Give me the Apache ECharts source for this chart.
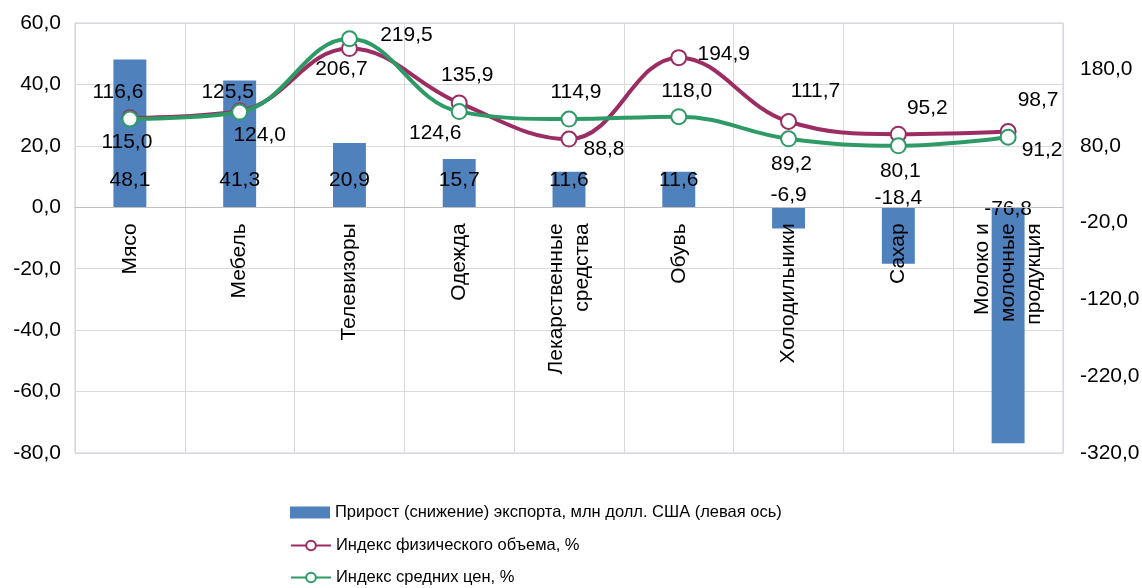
<!DOCTYPE html>
<html>
<head>
<meta charset="utf-8">
<script src="https://cdn.jsdelivr.net/npm/echarts@6/dist/echarts.min.js"></script>
<style>
  html, body { margin: 0; padding: 0; background: #fff; }
  #chart { width: 1142px; height: 588px; }
</style>
</head>
<body>
<div id="chart"></div>
<script>
const categories = ['Мясо', 'Мебель', 'Телевизоры', 'Одежда', 'Лекарственные\nсредства', 'Обувь', 'Холодильники', 'Сахар', 'Молоко и\nмолочные\nпродукция']
const exportGrowth = [48.1, 41.3, 20.9, 15.7, 11.6, 11.6, -6.9, -18.4, -76.8]
const volumeIndex = [116.6, 125.5, 206.7, 135.9, 88.8, 194.9, 111.7, 95.2, 98.7]
const priceIndex = [115.0, 124.0, 219.5, 124.6, 114.9, 118.0, 89.2, 80.1, 91.2]
const leftTicks = [-80, -60, -40, -20, 0, 20, 40, 60]
const rightTicks = [-320, -220, -120, -20, 80, 180]
const rightAxisMax = 240

const seriesNames = [
  'Прирост (снижение) экспорта, млн долл. США (левая ось)',
  'Индекс физического объема, %',
  'Индекс средних цен, %'
]

// where each label sits, relative to its mark
const volumeLabelOffset = [[-12, -26], [-12, -19], [-8, 21], [8, -28], [35, 10], [45, -3], [27, -30], [29, -26], [30, -31]]
const priceLabelOffset = [[-3, 23], [20, 23], [57, -4], [-24, 22], [7, -27], [8, -25], [3, 25], [2, 25], [34, 13]]
const barLabelOffset = [[0, 0], [0, 0], [0, 0], [0, 0], [0, 0], [0, 0], [0, 0], [0, 3], [0, 14]]

const FONT = 'Liberation Sans, Arial, sans-serif'
const fmt = v => Number(v).toFixed(1).replace('.', ',')

function lineData(values, offsets) {
  return values.map((v, i) => ({
    value: v,
    label: { offset: offsets[i] }
  }))
}

const gridTop = 23
const gridBottom = 135
const dom = document.getElementById('chart')
const chart = echarts.init(dom)

// category axis sits on the zero line of the left axis
const plotHeight = dom.clientHeight - gridTop - gridBottom
const leftMin = leftTicks[0]
const leftMax = leftTicks[leftTicks.length - 1]
const zeroOffset = -plotHeight * (0 - leftMin) / (leftMax - leftMin)

const legendTops = [504, 537, 569]
const legends = seriesNames.map((name, i) => ({
  orient: 'vertical',
  left: 290,
  top: legendTops[i],
  padding: 0,
  itemWidth: 40,
  itemHeight: 12,
  textStyle: { fontSize: 16.5, color: '#000', fontFamily: FONT },
  data: [i === 0 ? { name: name, icon: 'rect' } : name]
}))

let option = {
  animation: false,
  textStyle: { fontFamily: FONT },
  grid: {
    left: 75,
    right: 79,
    top: gridTop,
    bottom: gridBottom,
    outerBoundsMode: 'none',
    containLabel: false,
    show: true,
    borderColor: '#c9cde8',
    borderWidth: 1
  },
  legend: legends,
  xAxis: {
    type: 'category',
    data: categories,
    offset: zeroOffset,
    z: 10,
    axisLine: { onZero: false, lineStyle: { color: '#bfbfbf' } },
    axisTick: { show: false },
    axisLabel: {
      rotate: 90,
      margin: 16,
      interval: 0,
      color: '#000',
      fontSize: 21,
      lineHeight: 26,
      fontFamily: FONT
    },
    splitLine: { show: true, interval: 0, lineStyle: { color: '#d9d9d9' } }
  },
  yAxis: [{
    type: 'value',
    min: leftMin,
    max: leftMax,
    interval: leftTicks[1] - leftTicks[0],
    axisLine: { show: true, lineStyle: { color: '#c9cde8' } },
    axisTick: { show: false },
    axisLabel: { color: '#000', fontSize: 21, margin: 14, formatter: fmt, fontFamily: FONT },
    splitLine: { show: true, lineStyle: { color: '#d9d9d9' } }
  }, {
    type: 'value',
    min: rightTicks[0],
    max: rightAxisMax,
    interval: rightTicks[1] - rightTicks[0],
    axisLine: { show: false },
    axisTick: { show: false },
    axisLabel: { color: '#000', fontSize: 21, margin: 17, formatter: fmt, showMaxLabel: false, fontFamily: FONT },
    splitLine: { show: false }
  }],
  series: [{
    name: seriesNames[0],
    type: 'bar',
    yAxisIndex: 0,
    barWidth: '30%',
    itemStyle: { color: '#4f81bd' },
    data: exportGrowth.map((v, i) => ({
      value: v,
      label: v >= 0
        ? { position: 'insideBottom', distance: 17, offset: barLabelOffset[i] }
        : { position: 'top', distance: 2, offset: barLabelOffset[i] }
    })),
    label: {
      show: true,
      color: '#000',
      fontSize: 21,
      fontFamily: FONT,
      formatter: p => fmt(p.value)
    },
    z: 2
  }, {
    name: seriesNames[1],
    type: 'line',
    yAxisIndex: 1,
    smooth: 0.4,
    symbol: 'circle',
    symbolSize: 15,
    lineStyle: { color: '#9b2d62', width: 4 },
    itemStyle: { color: '#fff', borderColor: '#9b2d62', borderWidth: 2 },
    data: lineData(volumeIndex, volumeLabelOffset),
    label: {
      show: true,
      position: 'inside',
      color: '#000',
      fontSize: 21,
      fontFamily: FONT,
      formatter: p => fmt(p.value)
    },
    z: 12
  }, {
    name: seriesNames[2],
    type: 'line',
    yAxisIndex: 1,
    smooth: 0.4,
    symbol: 'circle',
    symbolSize: 15,
    lineStyle: { color: '#2e9b67', width: 4 },
    itemStyle: { color: '#fff', borderColor: '#2e9b67', borderWidth: 2 },
    data: lineData(priceIndex, priceLabelOffset),
    label: {
      show: true,
      position: 'inside',
      color: '#000',
      fontSize: 21,
      fontFamily: FONT,
      formatter: p => fmt(p.value)
    },
    z: 13
  }]
}

chart.setOption(option)
</script>
</body>
</html>
